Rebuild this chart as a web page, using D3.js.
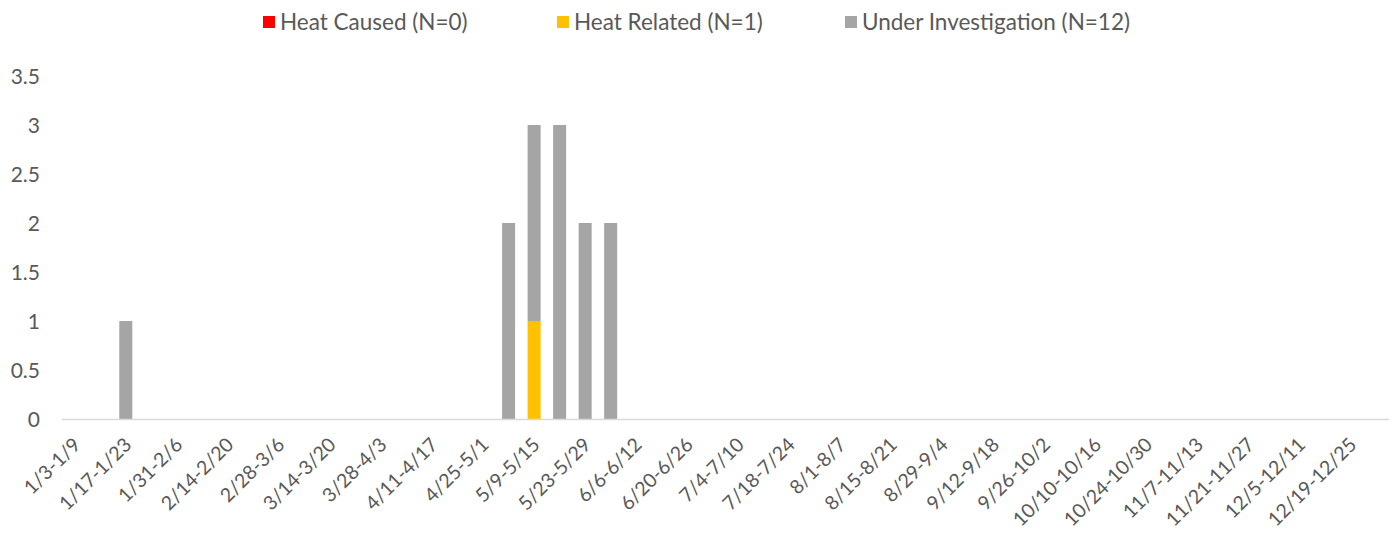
<!DOCTYPE html>
<html>
<head>
<meta charset="utf-8">
<script src="https://cdn.jsdelivr.net/npm/d3@7"></script>
<style>
  body { margin: 0; background: #fff; }
  text { font-family: Lato, "Open Sans", sans-serif; fill: #595959; }
</style>
</head>
<body>
<div id="chart"></div>
<script>
// weekly categories
const weeks = ["1/3-1/9", "1/10-1/16", "1/17-1/23", "1/24-1/30", "1/31-2/6", "2/7-2/13",
  "2/14-2/20", "2/21-2/27", "2/28-3/6", "3/7-3/13", "3/14-3/20", "3/21-3/27",
  "3/28-4/3", "4/4-4/10", "4/11-4/17", "4/18-4/24", "4/25-5/1", "5/2-5/8",
  "5/9-5/15", "5/16-5/22", "5/23-5/29", "5/30-6/5", "6/6-6/12", "6/13-6/19",
  "6/20-6/26", "6/27-7/3", "7/4-7/10", "7/11-7/17", "7/18-7/24", "7/25-7/31",
  "8/1-8/7", "8/8-8/14", "8/15-8/21", "8/22-8/28", "8/29-9/4", "9/5-9/11",
  "9/12-9/18", "9/19-9/25", "9/26-10/2", "10/3-10/9", "10/10-10/16", "10/17-10/23",
  "10/24-10/30", "10/31-11/6", "11/7-11/13", "11/14-11/20", "11/21-11/27", "11/28-12/4",
  "12/5-12/11", "12/12-12/18", "12/19-12/25", "12/26-1/1"];

// counts per week (only non-zero weeks listed)
const heatCaused = {};
const heatRelated = { "5/9-5/15": 1 };
const underInvestigation = { "1/17-1/23": 1, "5/2-5/8": 2, "5/9-5/15": 2, "5/16-5/22": 3, "5/23-5/29": 2, "5/30-6/5": 2 };

const seriesNames = ["Heat Caused (N=0)", "Heat Related (N=1)", "Under Investigation (N=12)"];
const seriesColors = ["#ff0000", "#ffc000", "#a5a5a5"];
const yTicks = [0, 0.5, 1, 1.5, 2, 2.5, 3, 3.5];

const width = 1392, height = 538;
const svg = d3.select("#chart").append("svg")
    .attr("width", width)
    .attr("height", height);

const table = weeks.map(w => ({
  week: w,
  caused: heatCaused[w] || 0,
  related: heatRelated[w] || 0,
  invest: underInvestigation[w] || 0
}));

const keys = ["caused", "related", "invest"];
const stacked = d3.stack().keys(keys)(table);

const x = d3.scaleBand()
    .domain(weeks)
    .range([62, 1389])
    .paddingInner(0.49)
    .paddingOuter(0.245);

const y = d3.scaleLinear()
    .domain([0, 3.5])
    .range([419, 76]);

// y axis labels
svg.append("g")
    .selectAll("text")
    .data(yTicks)
    .enter().append("text")
    .attr("x", 40)
    .attr("y", d => y(d))
    .attr("dy", "0.36em")
    .style("text-anchor", "end")
    .style("font-size", "21px")
    .text(d => d);

// bars
svg.append("g")
    .selectAll("g")
    .data(stacked)
    .enter().append("g")
    .attr("fill", (d, i) => seriesColors[i])
    .selectAll("rect")
    .data(d => d.filter(p => p[1] - p[0] > 0))
    .enter().append("rect")
    .attr("x", d => x(d.data.week))
    .attr("y", d => y(d[1]))
    .attr("width", x.bandwidth())
    .attr("height", d => y(d[0]) - y(d[1]));

// baseline
svg.append("line")
    .attr("x1", 62)
    .attr("x2", 1389)
    .attr("y1", y(0) + 0.5)
    .attr("y2", y(0) + 0.5)
    .attr("stroke", "#d9d9d9")
    .attr("stroke-width", 1.5);

// x labels, every other week
svg.append("g")
    .selectAll("text")
    .data(weeks.filter((w, i) => i % 2 === 0))
    .enter().append("text")
    .attr("transform", d => "translate(" + (x(d) + x.bandwidth() / 2 - 3) + "," + 436 + ") rotate(-45)")
    .attr("dy", "0.72em")
    .style("text-anchor", "end")
    .style("font-size", "19.5px")
    .text(d => d);

// legend
const legendX = [263, 557, 845];
const legend = svg.selectAll(".legend")
    .data(seriesNames)
    .enter().append("g")
    .attr("class", "legend")
    .attr("transform", (d, i) => "translate(" + legendX[i] + ",0)");

legend.append("rect")
    .attr("x", 0)
    .attr("y", 16)
    .attr("width", 12)
    .attr("height", 12)
    .style("fill", (d, i) => seriesColors[i]);

legend.append("text")
    .attr("x", 17)
    .attr("y", 22)
    .attr("dy", "0.36em")
    .style("font-size", "22.5px")
    .text(d => d);
</script>
</body>
</html>
